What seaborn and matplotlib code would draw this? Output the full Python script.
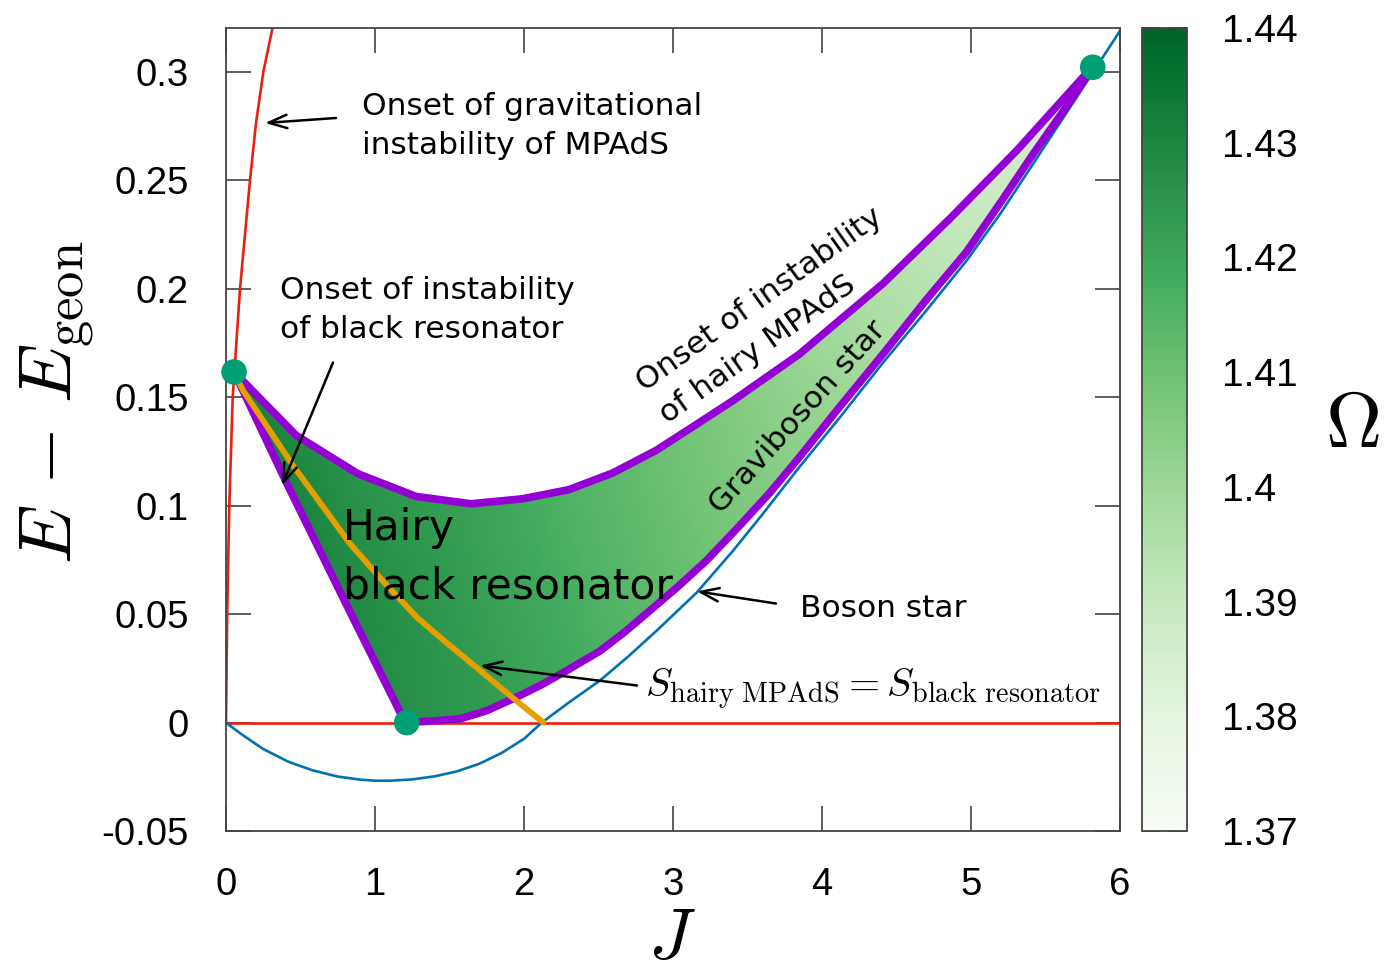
import numpy as np
import matplotlib
matplotlib.use("Agg")
import matplotlib.pyplot as plt
import matplotlib.tri as mtri
from matplotlib.patches import Polygon
from matplotlib.colors import LinearSegmentedColormap
import seaborn as sns

# ---------------- data ----------------
# upper boundary: onset of instability of hairy MPAdS
upper_J = [0.054, 0.47, 0.884, 1.275, 1.644, 1.99, 2.30, 2.595, 2.886, 3.13, 3.405,
           3.85, 4.41, 4.86, 5.31, 5.75, 5.817]
upper_E = [0.1617, 0.1325, 0.1148, 0.1043, 0.1009, 0.1032, 0.1074, 0.1151, 0.1255,
           0.1363, 0.1486, 0.170, 0.2025, 0.2325, 0.2640, 0.2975, 0.3022]
upper_Omega = [1.4311, 1.4283, 1.4256, 1.4233, 1.4211, 1.4183, 1.4156, 1.4133, 1.4106,
               1.4083, 1.4056, 1.4011, 1.395, 1.390, 1.3861, 1.3822, 1.3811]

# lower boundary: graviboson star
lower_J = [1.213, 1.40, 1.57, 1.75, 1.95, 2.12, 2.287, 2.51, 2.68, 2.846, 3.03, 3.226,
           3.45, 3.65, 3.85, 4.10, 4.41, 4.70, 4.97, 5.20, 5.42, 5.62, 5.817]
lower_E = [0.0, 0.0008, 0.0017, 0.0055, 0.0117, 0.0175, 0.024, 0.033, 0.042, 0.0517,
           0.0625, 0.0748, 0.091, 0.106, 0.1225, 0.144, 0.170, 0.195, 0.2171, 0.240,
           0.2625, 0.282, 0.3022]
lower_Omega = [1.4267, 1.4253, 1.4244, 1.4231, 1.4217, 1.4203, 1.4189, 1.4167, 1.415,
               1.4133, 1.4114, 1.4094, 1.4072, 1.4053, 1.4033, 1.4006, 1.3967, 1.3939,
               1.3911, 1.3889, 1.3867, 1.3839, 1.3811]

# left boundary: onset of instability of black resonator
left_J = [0.054, 0.41, 0.805, 1.17, 1.213]
left_E = [0.1617, 0.110, 0.0548, 0.0045, 0.0]
left_Omega = [1.4311, 1.4306, 1.4289, 1.4272, 1.4267]

# S_hairy MPAdS = S_black resonator
equal_S_J = [0.054, 0.116, 0.45, 0.832, 1.05, 1.28, 1.48, 1.68, 1.90, 2.13]
equal_S_E = [0.1617, 0.153, 0.1185, 0.0825, 0.0655, 0.0486, 0.0368, 0.0255, 0.0128, 0.0]

# boson star
boson_J = [0.0, 0.10, 0.25, 0.42, 0.58, 0.75, 0.90, 1.0, 1.10, 1.25, 1.40, 1.55, 1.70,
           1.85, 2.0, 2.12, 2.30, 2.51, 2.70, 2.90, 3.16, 3.40, 3.60, 3.85, 4.10, 4.41,
           4.70, 4.97, 5.20, 5.42, 5.62, 5.82, 6.0]
boson_E = [0.0, -0.0052, -0.0122, -0.0181, -0.0220, -0.0249, -0.0263, -0.0268, -0.0268,
           -0.0262, -0.0248, -0.0225, -0.0190, -0.0140, -0.0075, 0.0, 0.0092, 0.0194,
           0.0305, 0.043, 0.060, 0.079, 0.096, 0.118, 0.139, 0.166, 0.190, 0.213, 0.235,
           0.258, 0.279, 0.300, 0.319]

# onset of gravitational instability of MPAdS
grav_J = [0.0, 0.008, 0.022, 0.045, 0.094, 0.128, 0.161, 0.201, 0.2506, 0.313, 0.33]
grav_E = [0.0, 0.05, 0.10, 0.15, 0.20, 0.2255, 0.25, 0.2763, 0.30, 0.3206, 0.3256]

# MPAdS line E = E_geon
mpads_J = [0.0, 6.0]
mpads_E = [0.0, 0.0]

# special points
dots_J = [0.054, 1.213, 5.817]
dots_E = [0.1617, 0.0, 0.3022]

x_ticks = [0, 1, 2, 3, 4, 5, 6]
x_labels = ["0", "1", "2", "3", "4", "5", "6"]
y_ticks = [-0.05, 0.0, 0.05, 0.1, 0.15, 0.2, 0.25, 0.3]
y_labels = ["-0.05", "0", "0.05", "0.1", "0.15", "0.2", "0.25", "0.3"]
c_ticks = [1.37, 1.38, 1.39, 1.40, 1.41, 1.42, 1.43, 1.44]
c_labels = ["1.37", "1.38", "1.39", "1.4", "1.41", "1.42", "1.43", "1.44"]

# ---------------- style ----------------
sns.set_style("white")
plt.rcParams['font.family'] = ['DejaVu Sans']
plt.rcParams['mathtext.fontset'] = 'cm'
plt.rcParams['text.color'] = 'black'
plt.rcParams['xtick.color'] = 'black'
plt.rcParams['ytick.color'] = 'black'

W, H = 1386, 972
fig = plt.figure(figsize=(W / 100, H / 100), dpi=100)
ax = fig.add_axes([226 / W, 1 - 831 / H, (1120 - 226) / W, (831 - 28) / H])
cax = fig.add_axes([1142 / W, 1 - 831 / H, 45 / W, (831 - 28) / H])

PURPLE = "#9400D3"
ORANGE = "#E69F00"
BLUE = "#0072B2"
RED = "#E8200F"
TEAL = "#009E73"

greens = plt.get_cmap('Greens')
cmap = LinearSegmentedColormap.from_list("greens_trunc", greens(np.linspace(0.0, 0.9, 256)))

# ---------------- filled Omega region ----------------
nodes_J = np.array(upper_J + lower_J[:-1] + left_J[1:-1])
nodes_E = np.array(upper_E + lower_E[:-1] + left_E[1:-1])
nodes_O = np.array(upper_Omega + lower_Omega[:-1] + left_Omega[1:-1])
scale = 2166.7 / 149.0
tri_scaled = mtri.Triangulation(nodes_J, nodes_E * scale)
tri = mtri.Triangulation(nodes_J, nodes_E, triangles=tri_scaled.triangles)
tpc = ax.tripcolor(tri, nodes_O, shading='gouraud', cmap=cmap,
                   vmin=1.37, vmax=1.44, zorder=1)
poly_pts = list(zip(upper_J, upper_E)) + list(zip(lower_J[::-1], lower_E[::-1]))[1:] + \
    list(zip(left_J[::-1], left_E[::-1]))[1:-1]
clip_poly = Polygon(poly_pts, closed=True, transform=ax.transData)
tpc.set_clip_path(clip_poly)

# ---------------- curves ----------------
common = dict(sort=False, estimator=None, legend=False, ax=ax)
sns.lineplot(x=mpads_J, y=mpads_E, color=RED, lw=1.9, zorder=2, **common)
sns.lineplot(x=grav_J, y=grav_E, color=RED, lw=1.9, zorder=2, **common)
sns.lineplot(x=boson_J, y=boson_E, color=BLUE, lw=1.9, zorder=2, **common)
sns.lineplot(x=upper_J, y=upper_E, color=PURPLE, lw=5.5, zorder=3, **common)
sns.lineplot(x=lower_J, y=lower_E, color=PURPLE, lw=5.5, zorder=3, **common)
sns.lineplot(x=left_J, y=left_E, color=PURPLE, lw=5.5, zorder=3, **common)
sns.lineplot(x=equal_S_J, y=equal_S_E, color=ORANGE, lw=4.2, zorder=4, **common)
sns.scatterplot(x=dots_J, y=dots_E, color=TEAL, s=340, edgecolor='none', zorder=5,
                legend=False, ax=ax, clip_on=False)

# ---------------- axes ----------------
ax.set_xlim(0, 6)
ax.set_ylim(-0.05, 0.3203)
ax.set_xticks(x_ticks)
ax.set_xticklabels(x_labels)
ax.set_yticks(y_ticks)
ax.set_yticklabels(y_labels)
ax.set_xlabel("")
ax.set_ylabel("")
for sp in ax.spines.values():
    sp.set_color("#444444")
    sp.set_linewidth(1.3)
    sp.set_visible(True)
ax.tick_params(which='major', direction='in', length=18, width=1.1, color='#333333',
               labelcolor='black', top=True, right=True, bottom=True, left=True)
ax.tick_params(axis='y', pad=27)
ax.tick_params(axis='x', pad=26)
for lab in ax.get_xticklabels() + ax.get_yticklabels():
    lab.set_fontfamily('Liberation Sans')
    lab.set_fontsize(27.5)

# colorbar
cb = fig.colorbar(tpc, cax=cax)
cb.set_ticks(c_ticks)
cb.set_ticklabels(c_labels)
cb.outline.set_edgecolor("#444444")
cb.outline.set_linewidth(1.3)
cax.tick_params(which='major', direction='in', length=13, width=1.1, color='#222222',
                labelcolor='black', left=True, right=True, labelleft=False,
                labelright=True, pad=25)
cax.minorticks_off()
for lab in cax.get_yticklabels():
    lab.set_fontfamily('Liberation Sans')
    lab.set_fontsize(28)

# ---------------- labels ----------------
fig.text(57 / W, 1 - 402 / H, r"$E\,-\,E_{\rm geon}$", rotation=90, fontsize=54,
         ha='center', va='center', color='black')
fig.text(672 / W, 1 - 958 / H, r"$J$", fontsize=52, ha='center', va='baseline',
         color='black')
fig.text(1352 / W, 1 - 425 / H, r"$\Omega$", fontsize=56, ha='center', va='center',
         color='black')

# ---------------- annotations ----------------
txt = dict(fontsize=22.5, color='black', zorder=6, linespacing=1.43)
ax.text(0.913, 0.2622, "Onset of gravitational\ninstability of MPAdS", ha='left',
        va='baseline', **txt)
ax.text(0.362, 0.1772, "Onset of instability\nof black resonator", ha='left',
        va='baseline', **txt)
ax.text(0.785, 0.0572, "Hairy\nblack resonator", ha='left', va='baseline',
        fontsize=30.5, linespacing=1.49, zorder=6, color='black')
ax.text(3.852, 0.0489, "Boson star", ha='left', va='baseline', fontsize=22.5, zorder=6,
        color='black')
ax.text(2.924, 0.1417, "Onset of instability\nof hairy MPAdS", ha='left', va='baseline',
        rotation=35.5, rotation_mode='anchor', fontsize=22.5, linespacing=1.47, zorder=6,
        color='black')
ax.text(3.839, 0.141, "Graviboson star", ha='center', va='center', rotation=48,
        rotation_mode='anchor', fontsize=22.5, zorder=6, color='black')
ax.text(2.812, 0.0115, r"$S_{\rm hairy\ MPAdS} = S_{\rm black\ resonator}$", ha='left',
        va='baseline', fontsize=29, zorder=6, color='black')

arrow = dict(arrowstyle="->,head_length=0.6,head_width=0.22", color='black', lw=1.8,
             shrinkA=0, shrinkB=0, mutation_scale=22)
ax.annotate("", xy=(0.262, 0.2765), xytext=(0.738, 0.2788), arrowprops=arrow, zorder=6)
ax.annotate("", xy=(0.376, 0.1094), xytext=(0.718, 0.166), arrowprops=arrow, zorder=6)
ax.annotate("", xy=(3.161, 0.0605), xytext=(3.691, 0.0549), arrowprops=arrow, zorder=6)
ax.annotate("", xy=(1.705, 0.0263), xytext=(2.758, 0.0171), arrowprops=arrow, zorder=6)

fig.savefig("out.png", dpi=100)
